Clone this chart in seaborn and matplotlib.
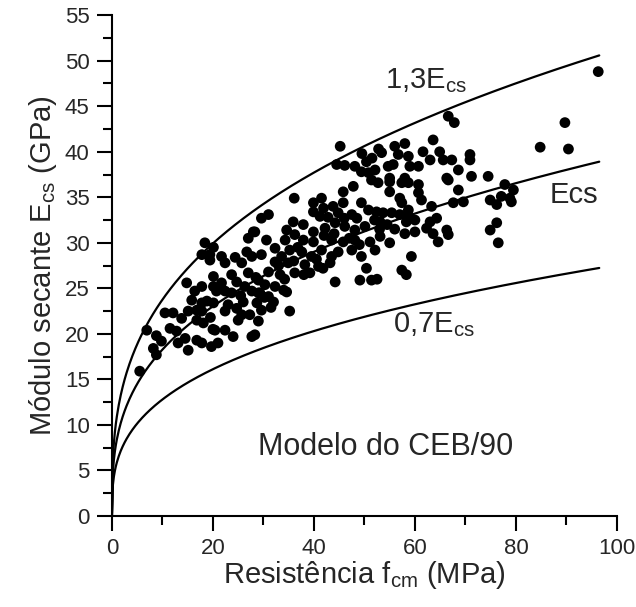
import numpy as np
import pandas as pd
import matplotlib
matplotlib.use("Agg")
import matplotlib.pyplot as plt
import seaborn as sns
from matplotlib.ticker import MultipleLocator

fcm_obs = [
    18.4, 20.1, 17.8, 19.4, 21.7, 27.0, 28.0, 26.7, 24.4, 27.7,
    19.4, 22.4, 25.7, 14.8, 16.4, 17.8, 20.1, 20.1, 21.7, 23.7,
    22.4, 24.7, 26.3, 27.7, 20.7, 15.8, 17.8, 18.8, 20.1, 17.8,
    16.8, 15.1, 10.5, 12.1, 13.8, 16.8, 18.1, 22.4, 24.7, 25.7,
    25.0, 27.3, 11.5, 12.8, 6.9, 8.8, 9.8, 8.2, 8.8, 13.1,
    14.5, 15.1, 16.8, 17.8, 19.7, 20.4, 22.4, 24.0, 27.7, 27.0,
    23.7, 5.5,
    44.5, 46.1, 48.1, 49.4, 50.8, 50.4, 51.4, 47.8, 45.8, 41.5,
    36.1, 39.9, 41.9, 43.8, 45.8, 39.9, 41.2, 44.8, 47.5, 49.4,
    50.8, 29.6, 31.0, 28.3, 35.9, 37.9, 34.6, 36.2, 39.9, 42.2,
    44.2, 46.1, 48.1, 50.1, 30.6, 34.3, 37.9, 39.9, 43.5, 45.8,
    48.1, 51.1, 32.3, 35.2, 37.6, 41.5, 44.8, 47.5, 29.6, 33.6,
    39.5, 43.5, 49.4,
    32.3, 34.9, 38.2, 40.9, 43.2, 31.0, 33.3, 36.2, 39.2, 41.8,
    50.4, 44.2, 49.1, 51.4, 29.0, 30.3, 32.3, 34.6, 29.3, 31.0,
    28.7, 29.6, 35.2, 29.0, 28.3,
    66.6, 67.8, 63.6, 58.0, 56.0, 53.4, 56.7, 58.7, 61.6, 64.9,
    65.6, 67.3, 70.9, 70.9, 63.0, 54.7, 55.7, 59.0, 60.7, 52.1,
    55.0, 58.0, 66.3, 68.6, 71.2, 74.5,
    52.7, 55.0, 57.4, 58.7, 60.7, 66.6, 55.0, 60.7, 68.6, 57.0,
    57.4, 61.3, 63.3, 67.6, 69.6, 74.9, 52.4, 53.7, 55.4, 57.0,
    58.7, 58.7, 53.1, 58.3, 60.0, 63.0, 64.3, 62.3, 60.0, 58.0,
    63.6, 66.3, 66.6, 64.6, 74.9, 53.1, 52.1, 59.3, 57.4, 58.3,
    96.3, 89.7, 84.8, 90.4,
    77.8, 79.5, 77.1, 78.8, 79.1, 76.2, 76.2, 76.5,
    45.2, 49.5, 51.5, 52.8, 52.5,
    33.0, 34.2, 36.0, 38.0, 30.2, 32.0, 34.0, 26.0, 29.0, 31.5,
    20.0, 21.0, 19.5, 42.0, 46.0, 48.5, 44.0, 47.0, 49.0, 52.0,
    53.0, 54.5, 55.0, 56.0, 23.0, 25.5, 28.5, 36.8, 40.5, 42.8,
]
ecs_obs = [
    30.0, 29.5, 28.7, 28.7, 28.5, 30.5, 31.2, 29.0, 28.4, 28.5,
    28.1, 27.8, 27.8, 25.6, 24.7, 25.2, 26.3, 25.2, 25.6, 24.5,
    24.7, 25.7, 25.2, 24.7, 24.7, 23.7, 23.4, 23.6, 23.4, 22.5,
    22.6, 22.5, 22.3, 22.3, 21.7, 21.5, 21.2, 22.5, 22.8, 22.1,
    21.5, 22.1, 20.6, 20.3, 20.4, 19.8, 19.2, 18.4, 17.7, 19.0,
    19.5, 18.2, 19.3, 19.0, 18.6, 20.4, 20.4, 19.7, 19.7, 26.7,
    26.5, 15.9,
    38.6, 38.5, 38.4, 37.8, 37.7, 38.9, 36.9, 36.2, 35.6, 34.9,
    34.9, 34.4, 33.8, 34.0, 34.4, 33.4, 32.9, 33.3, 33.1, 34.4,
    33.6, 32.7, 33.1, 31.2, 32.3, 32.0, 31.4, 30.9, 31.2, 31.6,
    32.2, 31.8, 31.4, 31.8, 30.3, 30.3, 30.3, 30.1, 30.3, 30.1,
    30.3, 30.1, 29.4, 29.2, 29.0, 29.2, 29.0, 29.2, 28.7, 28.5,
    28.5, 28.5, 28.5,
    27.9, 27.8, 27.6, 27.4, 27.8, 26.8, 26.5, 26.7, 26.7, 27.2,
    27.2, 25.7, 25.9, 25.9, 25.9, 25.4, 25.2, 24.6, 24.5, 24.1,
    23.4, 22.6, 22.5, 21.4, 19.9,
    43.9, 43.2, 41.3, 40.9, 40.6, 39.9, 39.7, 39.5, 40.0, 40.0,
    39.1, 39.1, 39.7, 39.1, 39.1, 38.4, 38.6, 38.4, 38.4, 38.0,
    37.1, 37.1, 37.1, 38.0, 37.3, 37.3,
    36.6, 36.7, 36.6, 36.6, 36.4, 36.9, 35.6, 35.5, 35.8, 34.9,
    34.4, 34.7, 34.0, 34.4, 34.5, 34.7, 33.4, 33.3, 33.3, 33.1,
    33.6, 32.9, 32.3, 32.3, 32.5, 32.3, 32.7, 31.6, 31.2, 31.0,
    31.0, 31.4, 30.9, 30.1, 31.4, 30.7, 29.2, 28.5, 27.0, 26.5,
    48.8, 43.2, 40.5, 40.3,
    36.4, 35.8, 35.1, 34.9, 34.5, 34.2, 32.2, 30.0,
    40.6, 39.8, 39.3, 40.3, 26.0,
    27.5, 26.0, 28.0, 26.5, 24.0, 23.5, 24.8, 23.5, 24.5, 22.9,
    20.5, 19.0, 21.8, 30.8, 32.7, 32.7, 31.0, 30.5, 29.8, 32.5,
    31.5, 32.0, 30.0, 31.5, 23.2, 24.2, 26.2, 29.5, 28.2, 32.8,
]

# CEB/90 model: Ecs = 0.85 * 21.5 * (fcm / 10)^(1/3)
ceb_coef = 0.85 * 21.5
ceb_factors = [1.3, 1.0, 0.7]
fcm_max = 96.5

obs = pd.DataFrame({"fcm": fcm_obs, "ecs": ecs_obs})
fcm_model = np.linspace(0, fcm_max, 500)
model = pd.concat(
    [pd.DataFrame({"fcm": fcm_model,
                   "ecs": k * ceb_coef * np.cbrt(fcm_model / 10.0),
                   "k": k}) for k in ceb_factors],
    ignore_index=True,
)

sns.set_style("ticks")
plt.rcParams["font.family"] = ["Liberation Sans", "DejaVu Sans"]
plt.rcParams["mathtext.default"] = "regular"

fig = plt.figure(figsize=(6.36, 6.07), dpi=100)
ax = fig.add_axes([0.176, 0.150, 0.794, 0.825])

for k, grp in model.groupby("k"):
    sns.lineplot(data=grp, x="fcm", y="ecs", ax=ax, color="black",
                 linewidth=1.6, sort=False, legend=False)
sns.scatterplot(data=obs, x="fcm", y="ecs", ax=ax, color="black",
                s=60, edgecolor="none", legend=False, zorder=3)

ax.set_xlim(0, 100)
ax.set_ylim(0, 55)
ax.xaxis.set_major_locator(MultipleLocator(20))
ax.xaxis.set_minor_locator(MultipleLocator(10))
ax.yaxis.set_major_locator(MultipleLocator(5))
ax.yaxis.set_minor_locator(MultipleLocator(2.5))
ax.tick_params(which="major", direction="out", length=11, width=1.5,
               labelsize=16, color="black", pad=5)
ax.tick_params(which="minor", direction="out", length=6.5, width=1.5,
               color="black")
sns.despine(ax=ax)
for side in ["left", "bottom"]:
    ax.spines[side].set_linewidth(1.5)
    ax.spines[side].set_color("black")

ax.set_xlabel("Resistência f$_{cm}$ (MPa)", fontsize=21, labelpad=0)
ax.set_ylabel("Módulo secante E$_{cs}$ (GPa)", fontsize=21, labelpad=4)

ax.text(54.0, 47.0, "1,3E$_{cs}$", fontsize=21, va="baseline")
ax.text(86.7, 34.4, "Ecs", fontsize=21, va="baseline")
ax.text(55.6, 20.2, "0,7E$_{cs}$", fontsize=21, va="baseline")
ax.text(29.0, 6.7, "Modelo do CEB/90", fontsize=22, va="baseline")

fig.savefig("out.png", dpi=100)
